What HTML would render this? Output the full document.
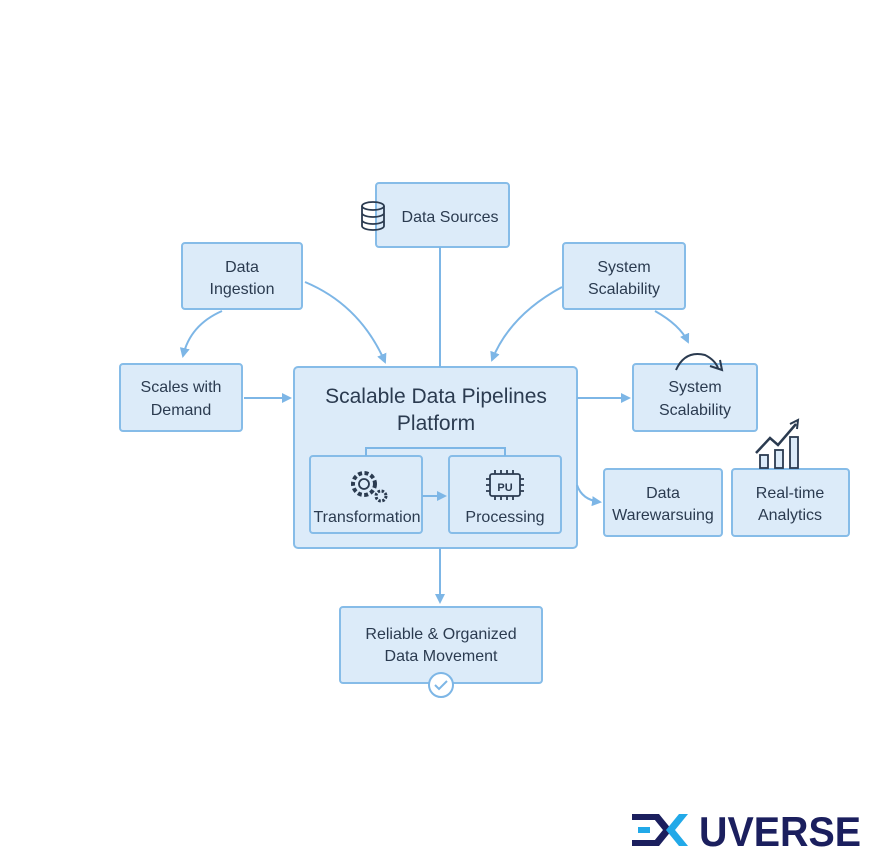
<!DOCTYPE html>
<html><head><meta charset="utf-8"><style>
body{margin:0;background:#fff;width:882px;height:868px;overflow:hidden}
svg{display:block}
text{font-family:"Liberation Sans",sans-serif;fill:#2b3b50}
</style></head><body>
<svg width="882" height="868" viewBox="0 0 882 868">
<defs>
<marker id="a" markerWidth="10" markerHeight="10" refX="8" refY="5" orient="auto" markerUnits="userSpaceOnUse"><path d="M0,0 L10,5 L0,10 z" fill="#7db6e6"/></marker>
</defs>
<g fill="#dcebf9" stroke="#86bce8" stroke-width="2">
<rect x="376" y="183" width="133" height="64" rx="3"/>
<rect x="182" y="243" width="120" height="66" rx="3"/>
<rect x="563" y="243" width="122" height="66" rx="3"/>
<rect x="120" y="364" width="122" height="67" rx="3"/>
<rect x="294" y="367" width="283" height="181" rx="4"/>
<rect x="310" y="456" width="112" height="77" rx="3"/>
<rect x="449" y="456" width="112" height="77" rx="3"/>
<rect x="633" y="364" width="124" height="67" rx="3"/>
<rect x="604" y="469" width="118" height="67" rx="3"/>
<rect x="732" y="469" width="117" height="67" rx="3"/>
<rect x="340" y="607" width="202" height="76" rx="3"/>
</g>
<g fill="none" stroke="#7db6e6" stroke-width="2">
<line x1="440" y1="247" x2="440" y2="367"/>
<path d="M305,282 Q360,305 385,362" marker-end="url(#a)"/>
<path d="M222,311 Q190,325 183,356" marker-end="url(#a)"/>
<path d="M562,287 Q510,315 492,360" marker-end="url(#a)"/>
<path d="M655,311 Q680,325 688,342" marker-end="url(#a)"/>
<line x1="244" y1="398" x2="290" y2="398" marker-end="url(#a)"/>
<line x1="577" y1="398" x2="629" y2="398" marker-end="url(#a)"/>
<path d="M577,485 Q582,500 600,502" marker-end="url(#a)"/>
<line x1="440" y1="548" x2="440" y2="602" marker-end="url(#a)"/>
<line x1="422" y1="496" x2="445" y2="496" marker-end="url(#a)"/>
<path d="M366,456 V448 H505 V456"/>
</g>
<text x="442" y="222" font-size="16" text-anchor="middle" dx="8">Data Sources</text>
<g fill="none" stroke="#2b3b50" stroke-width="1.8">
<ellipse cx="373" cy="206" rx="11" ry="4"/>
<path d="M362,206 V226 M384,206 V226 M362,213 a11,4 0 0 0 22,0 M362,220 a11,4 0 0 0 22,0 M362,226 a11,4 0 0 0 22,0"/>
</g>
<text x="242" y="272" font-size="16" text-anchor="middle">Data</text>
<text x="242" y="294" font-size="16" text-anchor="middle">Ingestion</text>
<text x="624" y="272" font-size="16" text-anchor="middle">System</text>
<text x="624" y="294" font-size="16" text-anchor="middle">Scalability</text>
<text x="181" y="392" font-size="16" text-anchor="middle">Scales with</text>
<text x="181" y="415" font-size="16" text-anchor="middle">Demand</text>
<text x="436" y="403" font-size="21" text-anchor="middle">Scalable Data Pipelines</text>
<text x="436" y="430" font-size="21" text-anchor="middle">Platform</text>
<text x="367" y="522" font-size="16" text-anchor="middle">Transformation</text>
<text x="505" y="522" font-size="16" text-anchor="middle">Processing</text>
<g fill="none" stroke="#2b3b50" stroke-width="1.8">
<circle cx="364" cy="484" r="11" stroke-dasharray="4 2.5" stroke-width="4"/>
<circle cx="364" cy="484" r="5"/>
<circle cx="381" cy="496" r="5" stroke-dasharray="2.5 1.5" stroke-width="3"/>
<rect x="490" y="474" width="30" height="22" rx="2"/>
<path d="M495,470 v4 M501,470 v4 M507,470 v4 M513,470 v4 M495,496 v4 M501,496 v4 M507,496 v4 M513,496 v4 M486,479 h4 M486,485 h4 M486,491 h4 M520,479 h4 M520,485 h4 M520,491 h4"/>
</g>
<text x="505" y="491" font-size="11" text-anchor="middle" font-weight="bold">PU</text>
<text x="695" y="392" font-size="16" text-anchor="middle">System</text>
<text x="695" y="415" font-size="16" text-anchor="middle">Scalability</text>
<path d="M676,370 Q685,350 705,355 Q715,360 718,368" fill="none" stroke="#2b3b50" stroke-width="2"/>
<path d="M710,366 L722,370 L720,360" fill="none" stroke="#2b3b50" stroke-width="2"/>
<text x="663" y="498" font-size="16" text-anchor="middle">Data</text>
<text x="663" y="520" font-size="16" text-anchor="middle">Warewarsuing</text>
<text x="790" y="498" font-size="16" text-anchor="middle">Real-time</text>
<text x="790" y="520" font-size="16" text-anchor="middle">Analytics</text>
<g fill="#dcebf9" stroke="#2b3b50" stroke-width="1.8">
<rect x="760" y="455" width="8" height="13"/>
<rect x="775" y="450" width="8" height="18"/>
<rect x="790" y="437" width="8" height="31"/>
<path d="M756,453 L770,438 L778,445 L796,424" fill="none" stroke-width="2.5"/>
<path d="M790,424 L798,420 L797,429" fill="none" stroke-width="2"/>
</g>
<text x="441" y="639" font-size="16" text-anchor="middle">Reliable &amp; Organized</text>
<text x="441" y="661" font-size="16" text-anchor="middle">Data Movement</text>
<circle cx="441" cy="685" r="12" fill="#fff" stroke="#7db6e6" stroke-width="2"/>
<path d="M435,685 l4,4 l8,-8" fill="none" stroke="#7db6e6" stroke-width="2"/>
<g>
<rect x="632" y="814" width="26" height="6" fill="#1b1f5e"/>
<rect x="638" y="827" width="12" height="6" fill="#22a9e8"/>
<rect x="632" y="840" width="26" height="6" fill="#1b1f5e"/>
<path d="M650,814 h9 l13,16 l-13,16 h-9 l13,-16 z" fill="#1b1f5e"/>
<path d="M679,814 h9 l-13,16 l13,16 h-9 l-13,-16 z" fill="#22a9e8"/>
<text x="699" y="846" font-size="42" font-weight="bold" style="fill:#1b1f5e" textLength="162" lengthAdjust="spacingAndGlyphs">UVERSE</text>
</g>
</svg>
</body></html>
